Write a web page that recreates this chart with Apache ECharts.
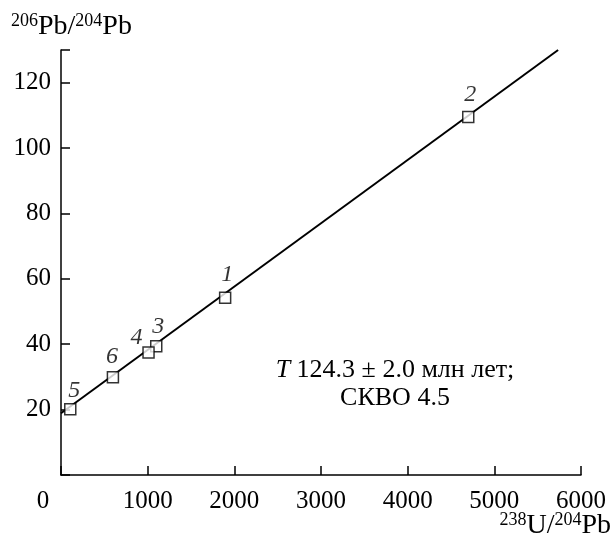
<!DOCTYPE html>
<html>
<head>
<meta charset="utf-8">
<script src="https://cdn.jsdelivr.net/npm/echarts@6/dist/echarts.min.js"></script>
<style>
html,body{margin:0;padding:0;background:#fff;}
#chart{width:611px;height:540px;}
</style>
</head>
<body>
<div id="chart"></div>
<script>
// Data
const sampleLabels = ['1', '2', '3', '4', '5', '6'];
const u238pb204 = [1894, 4699, 1099, 1010, 107, 599];
const pb206pb204 = [54.2, 109.5, 39.4, 37.5, 20.1, 29.9];
const fitX = [0, 5736];
const fitY = [18.9, 130];
const xTicks = [0, 1000, 2000, 3000, 4000, 5000, 6000];
const yTicks = [20, 40, 60, 80, 100, 120];
const annotation = ['124.3 ± 2.0 млн лет;', 'СКВО 4.5'];

// label offsets (style)
const labelOffsets = {'1': [2, -23], '2': [2, -22], '3': [2, -20], '4': [-12, -15], '5': [4, -19], '6': [-1, -21]};

const FONT = '"Liberation Serif", "DejaVu Serif", serif';
const chart = echarts.init(document.getElementById('chart'), null, {renderer: 'canvas'});

const points = sampleLabels.map((l, i) => ({
  value: [u238pb204[i], pb206pb204[i]],
  name: l,
  label: {offset: labelOffsets[l]}
}));

const option = {
  animation: false,
  backgroundColor: '#fff',
  grid: {left: 61, right: 30, top: 50, bottom: 65},
  xAxis: {
    type: 'value', min: xTicks[0], max: xTicks[xTicks.length - 1], interval: 1000,
    axisLine: {lineStyle: {color: '#000', width: 1.5}},
    axisTick: {inside: true, length: 9, lineStyle: {color: '#000', width: 1.5}},
    splitLine: {show: false},
    axisLabel: {
      color: '#000', fontFamily: FONT, fontSize: 25, margin: 14,
      formatter: v => v === 0 ? '{z|0}' : String(v),
      rich: {z: {fontFamily: FONT, fontSize: 25, color: '#000', padding: [0, 36, 0, 0]}}
    }
  },
  yAxis: {
    type: 'value', min: 0, max: 130, interval: 20,
    axisLine: {show: true, lineStyle: {color: '#000', width: 1.5}},
    axisTick: {show: true, inside: true, length: 9, lineStyle: {color: '#000', width: 1.5}},
    splitLine: {show: false},
    axisLabel: {
      color: '#000', fontFamily: FONT, fontSize: 25, margin: 10,
      formatter: v => yTicks.indexOf(v) >= 0 ? String(v) : ''
    }
  },
  series: [
    {
      type: 'line', data: fitX.map((x, i) => [x, fitY[i]]),
      symbol: 'none', lineStyle: {color: '#000', width: 2}, z: 2, silent: true
    },
    {
      type: 'scatter', data: points, symbol: 'rect', symbolSize: 11, z: 3,
      itemStyle: {color: '#fff', borderColor: '#000', borderWidth: 1.5},
      label: {
        show: true, position: 'inside', formatter: p => p.name,
        fontFamily: FONT, fontStyle: 'italic', fontSize: 24, color: '#000'
      }
    }
  ],
  graphic: [
    {
      type: 'text', left: 11, top: 12,
      style: {
        text: '{s|206}{m|Pb/}{s|204}{m|Pb}',
        rich: {
          s: {fontFamily: FONT, fontSize: 18, color: '#000', verticalAlign: 'top', lineHeight: 30},
          m: {fontFamily: FONT, fontSize: 28, color: '#000', lineHeight: 30}
        }
      }
    },
    {
      type: 'text', right: 0, bottom: 0,
      style: {
        text: '{s|238}{m|U/}{s|204}{m|Pb}',
        rich: {
          s: {fontFamily: FONT, fontSize: 18, color: '#000', verticalAlign: 'top', lineHeight: 30},
          m: {fontFamily: FONT, fontSize: 28, color: '#000', lineHeight: 30}
        }
      }
    },
    {
      type: 'text', x: 395, y: 384,
      style: {
        text: '{i|T} ' + annotation[0] + '\n' + annotation[1],
        align: 'center', verticalAlign: 'middle',
        fontFamily: FONT, fontSize: 26, fill: '#000', lineHeight: 28,
        rich: {i: {fontFamily: FONT, fontSize: 26, fontStyle: 'italic', color: '#000', lineHeight: 28}}
      }
    }
  ]
};
chart.setOption(option);
</script>
</body>
</html>
